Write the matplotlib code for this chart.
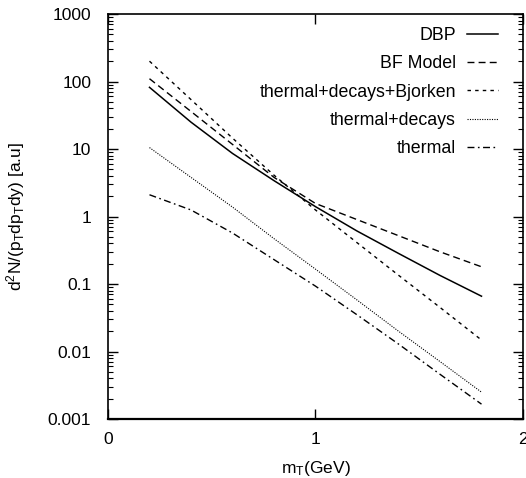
import matplotlib
matplotlib.use("Agg")
import matplotlib.pyplot as plt
from matplotlib.ticker import FixedLocator, LogLocator, NullFormatter, FixedFormatter

plt.rcParams['font.family'] = ['Liberation Sans', 'DejaVu Sans']
plt.rcParams['mathtext.default'] = 'regular'

# transverse mass grid (GeV)
mt = [0.2, 0.4, 0.6, 0.8, 1.0, 1.2, 1.4, 1.6, 1.8]

dbp = [82, 25, 8.6, 3.4, 1.40, 0.61, 0.284, 0.134, 0.066]
bf_model = [110, 36, 11.7, 3.8, 1.56, 0.90, 0.52, 0.30, 0.18]
bjorken = [200, 54, 14.5, 4.1, 1.25, 0.41, 0.135, 0.045, 0.0148]
thermal_decays = [10.5, 3.8, 1.38, 0.47, 0.166, 0.058, 0.020, 0.0071, 0.0025]
thermal = [2.1, 1.25, 0.57, 0.23, 0.093, 0.035, 0.0129, 0.0046, 0.00166]

labels = ["DBP", "BF Model", "thermal+decays+Bjorken", "thermal+decays", "thermal"]

fig = plt.figure(figsize=(5.26, 4.78), dpi=100)
ax = fig.add_axes([0.2053, 0.1234, 0.789, 0.8473])

ax.plot(mt, dbp, color='black', lw=1.1, label=labels[0])
ax.plot(mt, bf_model, color='black', lw=1.0, dashes=(5, 3), label=labels[1])
ax.plot(mt, bjorken, color='black', lw=1.0, dashes=(2.5, 3), label=labels[2])
ax.plot(mt, thermal_decays, color='black', lw=0.8, dashes=(1, 1.2), label=labels[3])
ax.plot(mt, thermal, color='black', lw=1.0, dashes=(5, 2.5, 1.2, 2.5), label=labels[4])

ax.set_yscale('log')
ax.set_xlim(0, 2)
ax.set_ylim(0.001, 1000)

yt = [0.001, 0.01, 0.1, 1, 10, 100, 1000]
ax.yaxis.set_major_locator(FixedLocator(yt))
ax.yaxis.set_major_formatter(FixedFormatter(["0.001", "0.01", "0.1", "1", "10", "100", "1000"]))
ax.yaxis.set_minor_locator(LogLocator(base=10, subs=range(2, 10), numticks=20))
ax.yaxis.set_minor_formatter(NullFormatter())
ax.set_xticks([0, 1, 2])
ax.set_xticklabels(["0", "1", "2"])

ax.tick_params(which='major', direction='in', length=7, width=1, top=True, right=True,
               labelsize=12.5)
ax.tick_params(axis='y', which='major', pad=12)
ax.tick_params(axis='x', which='major', pad=9)
ax.tick_params(which='minor', direction='in', length=3.5, width=0.8, top=True, right=True)
for s in ax.spines.values():
    s.set_linewidth(1.2)
ax.spines['bottom'].set_linewidth(1.6)

ax.set_xlabel("m$_T$(GeV)", fontsize=12.5, labelpad=9)
ax.set_ylabel("d$^2$N/(p$_T$dp$_T$dy) [a.u]", fontsize=12.5, labelpad=15)

ax.legend(loc='upper right', frameon=False, markerfirst=False, fontsize=12.8,
          handlelength=1.75, handletextpad=0.63, labelspacing=0.64,
          borderpad=0, borderaxespad=0, bbox_to_anchor=(0.94, 0.968))

fig.savefig("out.png", dpi=100)
